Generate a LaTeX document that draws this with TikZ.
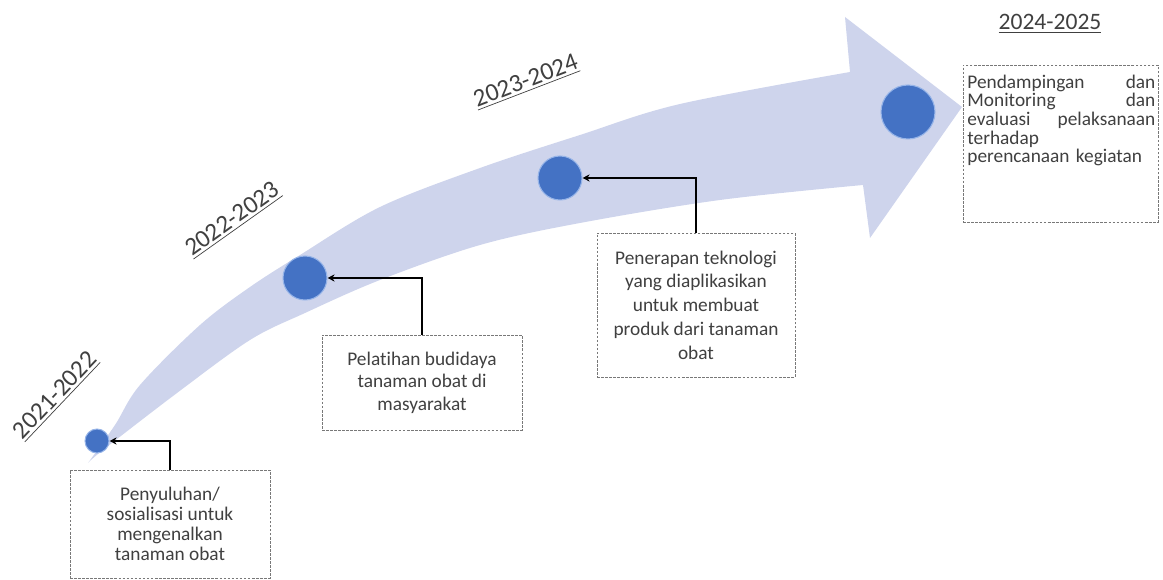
\documentclass[tikz,border=0pt]{standalone}
\usepackage{fontspec}
\setmainfont{Carlito}[Ligatures=NoCommon]
\usetikzlibrary{arrows.meta}
\definecolor{bandlav}{RGB}{206,212,236}
\definecolor{dotblue}{RGB}{68,114,196}
\definecolor{dotrim}{RGB}{150,180,232}
\definecolor{boxgray}{RGB}{120,120,120}
\definecolor{txtgray}{RGB}{64,64,64}
\setlength{\lineskiplimit}{-5pt}

\begin{document}
\begin{tikzpicture}[x=0.02cm, y=-0.02cm,
  milestone/.style={circle, fill=dotblue, draw=dotrim, line width=0.6pt, inner sep=0pt},
  infobox/.style={draw=boxgray, dash pattern=on 1.5pt off 0.8pt, line width=0.5pt,
    fill=white, align=center, text=txtgray, inner sep=0pt},
  year/.style={font=\fontsize{14.3}{16}\selectfont, text=txtgray, inner sep=0pt},
  link/.style={line width=1.1pt, -{Stealth[length=4pt,width=4pt]}}]
\useasboundingbox (0,0) rectangle (1163,580);
% Arrow band
\fill[bandlav] plot[smooth, tension=0.55] coordinates {(88,463) (115,425) (140,385)
    (200,325) (250,287) (300,255) (380,207) (480,168) (580,135) (680,104) (850,72)}
  -- (845,17) -- (962,107) -- (870,238) -- (863,185)
  -- plot[smooth, tension=0.55] coordinates {(863,185) (720,200) (580,223) (480,245)
    (380,280) (305,313) (250,340) (177,393) (103,450) (88,463)} -- cycle;
% Milestones
\node[milestone, minimum size=0.48cm] (m1) at (97,441) {};
\node[milestone, minimum size=0.88cm] (m2) at (305,278) {};
\node[milestone, minimum size=0.88cm] (m3) at (560,178) {};
\node[milestone, minimum size=1.08cm] (m4) at (908,112) {};
% Year labels
\node[year, rotate=46.5] (y1) at (56,396) {\underline{2021-2022}};
\node[year, rotate=35.4] (y2) at (233,220) {\underline{2022-2023}};
\node[year, rotate=21] (y3) at (526,82) {\underline{2023-2024}};
\node[year, font=\fontsize{13.4}{15}\selectfont] (y4) at (1050,24) {\underline{2024-2025}};
% Boxes
\node[infobox, minimum width=4cm, minimum height=2.16cm, font=\fontsize{11}{11.4}\selectfont]
  (b1) at (170,524) {Penyuluhan/\\sosialisasi untuk\\mengenalkan\\tanaman obat};
\node[infobox, minimum width=4cm, minimum height=1.9cm, font=\fontsize{11}{12.8}\selectfont]
  (b2) at (422,382.5) {Pelatihan budidaya\\tanaman obat di\\masyarakat};
\node[infobox, minimum width=3.96cm, minimum height=2.88cm, font=\fontsize{11}{13.5}\selectfont]
  (b3) at (696,305) {Penerapan teknologi\\yang diaplikasikan\\untuk membuat\\produk dari tanaman\\obat};
\node[infobox, minimum width=3.9cm, minimum height=3.14cm] (b4) at (1060.5,143.5) {};
\node[anchor=north west, text width=3.76cm, align=left, inner sep=0pt, text=txtgray,
  font=\fontsize{11}{10.6}\selectfont]
  (t4) at ([xshift=0.09cm, yshift=-0.2cm]b4.north west)
  {Pendampingan\hfill dan\\Monitoring\hfill dan\\evaluasi\hfill pelaksanaan\\terhadap\\perencanaan kegiatan};
% Connectors
\draw[link] (b1.north) |- (m1.east);
\draw[link] (b2.north) |- (m2.east);
\draw[link] (b3.north) |- (m3.east);
\end{tikzpicture}
\end{document}
